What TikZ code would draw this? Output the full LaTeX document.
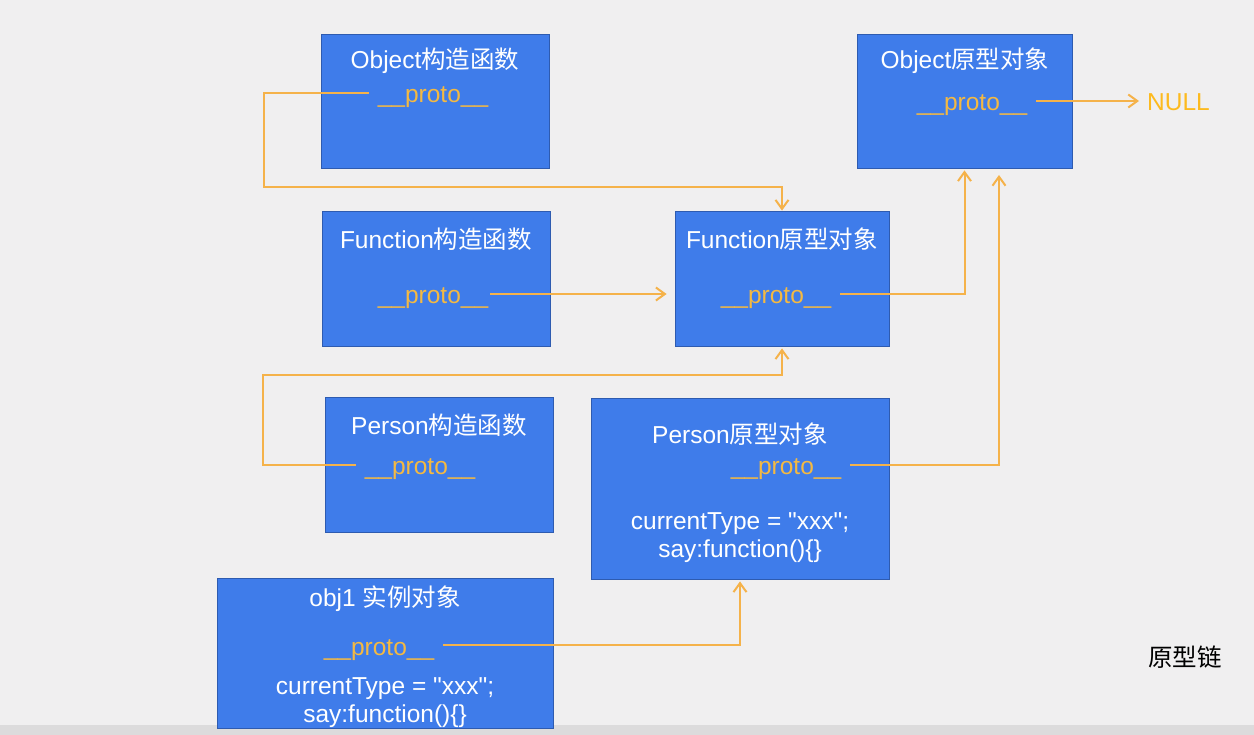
\documentclass[tikz,border=0pt]{standalone}
\usepackage{fontspec}
\setmainfont{Liberation Sans}
\newfontfamily\cjk{Noto Sans CJK SC}
\usetikzlibrary{arrows.meta}
\definecolor{bg}{HTML}{F0EFF0}
\definecolor{bar}{HTML}{DCDBDC}
\definecolor{boxblue}{HTML}{3F7CEA}
\definecolor{boxedge}{HTML}{2E5BB0}
\definecolor{protoc}{HTML}{F4B942}
\definecolor{linec}{HTML}{F5B24A}
\definecolor{nullc}{HTML}{FDBA1E}
\newcommand{\myfs}{\fontsize{24.5}{28}\selectfont}
\tikzset{
  box/.style={draw=boxedge, line width=0.8pt, fill=boxblue, rectangle, inner sep=0pt},
  title/.style={text=white, font=\myfs, inner sep=0pt},
  body/.style={text=white, font=\myfs, align=center, inner sep=0pt},
  proto/.style={text=protoc, font=\myfs, inner xsep=9pt, inner ysep=0pt, anchor=base},
  link/.style={draw=linec, line width=2pt, -{Straight Barb[length=9pt,width=13pt,line width=2pt]}}
}
\begin{document}
\begin{tikzpicture}[x=1pt,y=-1pt]
\useasboundingbox (0,0) rectangle (1254,735);
\fill[bg] (0,0) rectangle (1254,735);
\fill[bar] (0,725) rectangle (1254,735);

% boxes
\node[box, minimum width=228pt, minimum height=134pt] (oc) at (435,101) {};
\node[box, minimum width=215pt, minimum height=134pt] (op) at (964.5,101) {};
\node[box, minimum width=228pt, minimum height=135pt] (fc) at (436,278.5) {};
\node[box, minimum width=214pt, minimum height=135pt] (fp) at (782,278.5) {};
\node[box, minimum width=228pt, minimum height=135pt] (pc) at (439,464.5) {};
\node[box, minimum width=298pt, minimum height=181pt] (pp) at (740,488.5) {};
\node[box, minimum width=336pt, minimum height=150pt] (ob) at (385,653) {};

% titles
\node[title] (oct) at (435,61) {Object{\cjk 构造函数}};
\node[title] (opt) at (965,61) {Object{\cjk 原型对象}};
\node[title] (fct) at (436,239) {Function{\cjk 构造函数}};
\node[title] (fpt) at (782,239) {Function{\cjk 原型对象}};
\node[title] (pct) at (439,425) {Person{\cjk 构造函数}};
\node[title] (ppt) at (740,434) {Person{\cjk 原型对象}};
\node[title] (obt) at (385,599) {obj1 {\cjk 实例对象}};

% bodies
\node[body] (ppb) at (740,538) {currentType = \textquotedbl xxx\textquotedbl;\\say:function()\{\}};
\node[body] (obb) at (385,703) {currentType = \textquotedbl xxx\textquotedbl;\\say:function()\{\}};

% proto labels (placed on their baselines)
\node[proto] (ocp) at (433,103) {\_\_proto\_\_};
\node[proto] (opp) at (972,111) {\_\_proto\_\_};
\node[proto] (fcp) at (433,304) {\_\_proto\_\_};
\node[proto] (fpp) at (776,304) {\_\_proto\_\_};
\node[proto] (pcp) at (420,475) {\_\_proto\_\_};
\node[proto] (ppp) at (786,475) {\_\_proto\_\_};
\node[proto] (obp) at (379,655) {\_\_proto\_\_};

\node[text=nullc, font=\myfs, inner sep=0pt, anchor=west] (null) at (1147,102) {NULL};
\node[font=\cjk\myfs, inner sep=0pt] (chain) at (1185,657) {原型链};

% connector start points
\coordinate (s1) at ([yshift=10pt]ocp.base west);
\coordinate (s2) at ([yshift=10pt]opp.base east);
\coordinate (s3) at ([xshift=-7pt,yshift=10pt]fcp.base east);
\coordinate (s4) at ([yshift=10pt]fpp.base east);
\coordinate (s5) at ([yshift=10pt]pcp.base west);
\coordinate (s6) at ([yshift=10pt]ppp.base east);
\coordinate (s7) at ([yshift=10pt]obp.base east);
% bends
\coordinate (k1) at (264,187);
\coordinate (k2) at (263,375);
\coordinate (k3) at (999,175);

\draw[link, shorten >=8pt] (s2) -- (s2 -| null.west);
\draw[link] (s1) -| (k1) -| (fp.north);
\draw[link, shorten >=8pt] (s3) -- (s3 -| fp.west);
\draw[link, shorten >=2pt] (s4) -| (op.south);
\draw[link, shorten >=2pt] (s5) -| (k2) -| (fp.south);
\draw[link] (s6) -| (k3);
\draw[link, shorten >=2pt] (s7) -| (pp.south);
\end{tikzpicture}
\end{document}
